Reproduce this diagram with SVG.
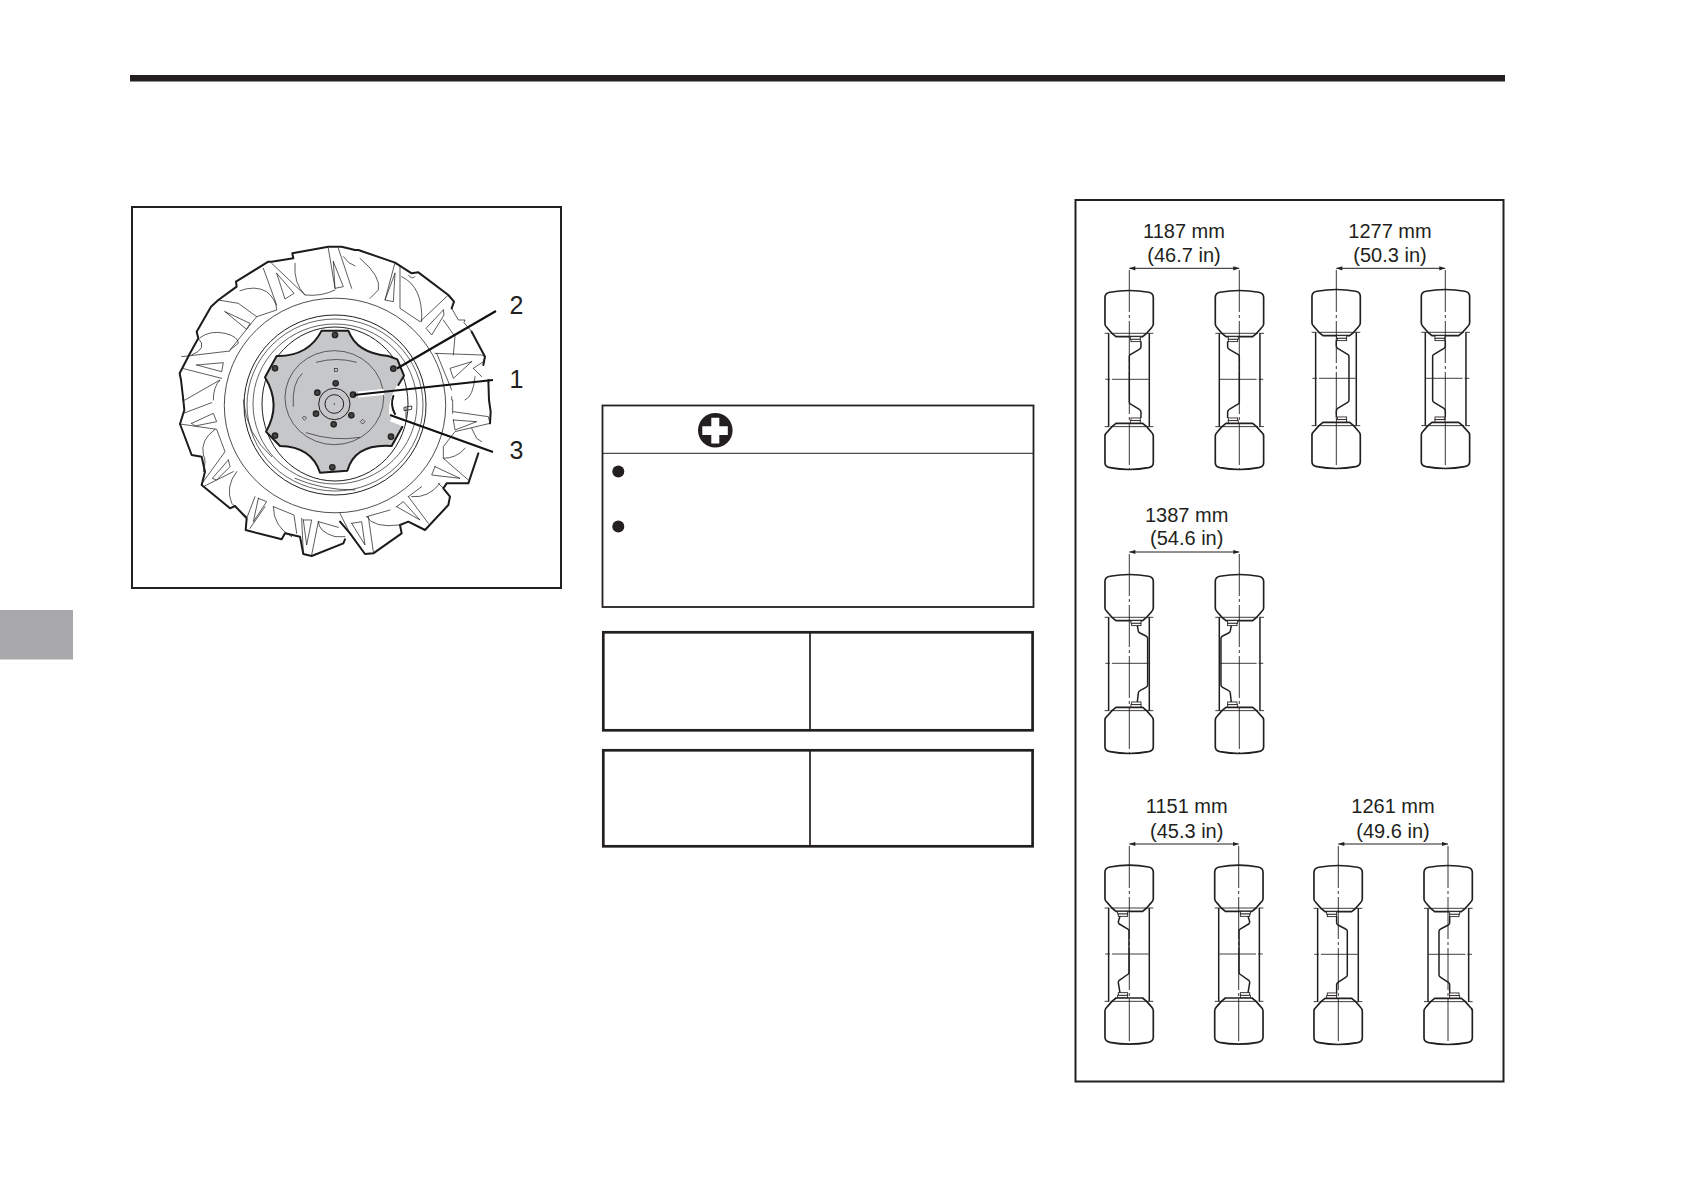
<svg xmlns="http://www.w3.org/2000/svg" xmlns:xlink="http://www.w3.org/1999/xlink" width="1684" height="1190" viewBox="0 0 1684 1190">
<style>
text{font-family:"Liberation Sans",Arial,sans-serif;fill:#231f20}
.dim{font-size:20px;text-anchor:middle}
.num{font-size:25px;text-anchor:middle}
.frame{fill:none;stroke:#231f20;stroke-width:2}
.thin{fill:none;stroke:#231f20;stroke-width:2.2;stroke-linejoin:round;stroke-linecap:round}
.thick{fill:none;stroke:#1c1a1b;stroke-width:6;stroke-linejoin:round;stroke-linecap:round}
.lead{stroke:#111;stroke-width:2.200;fill:none}
.halo{stroke:#fff;stroke-width:6;fill:none}
.bolt{fill:#444;stroke:#222;stroke-width:4}
.t{fill:#fff;stroke:#231f20;stroke-width:5;stroke-linejoin:round}
.w{fill:none;stroke:#231f20;stroke-width:4.500;stroke-linejoin:round}
.d{fill:none;stroke:#231f20;stroke-width:4.500;stroke-linejoin:round}
.b{fill:#fff;stroke:#231f20;stroke-width:2.600}
.cl{stroke:#231f20;stroke-width:.9;stroke-dasharray:42 3 3 3;fill:none}
.dl{stroke:#231f20;stroke-width:1;fill:none;marker-start:url(#as);marker-end:url(#ae)}
</style>
<defs>
<marker id="ae" markerUnits="userSpaceOnUse" markerWidth="7" markerHeight="5" refX="6" refY="2.5" orient="auto"><path d="M0 .4L6 2.5L0 4.6z" fill="#231f20"/></marker>
<marker id="as" markerUnits="userSpaceOnUse" markerWidth="7" markerHeight="5" refX="0" refY="2.5" orient="auto"><path d="M6 .4L0 2.5L6 4.6z" fill="#231f20"/></marker>
<g id="wheel">
<path class="t" d="M-73-246Q-73-258-58-261Q0-272 58-261Q72-258 72-246V-166Q72-160 66-154L52-138L40-128H-40L-52-138L-66-154Q-73-160-73-166Z"/>
<path class="t" d="M-73 250Q-73 262-58 265Q0 276 58 265Q72 262 72 250V170Q72 164 66 158L52 142L40 132H-40L-52 142L-66 158Q-73 164-73 170Z"/>
<path class="w" d="M-62-138V142M60-138V142"/>
<path d="M-74-138H72M-74 142H72" stroke="#231f20" stroke-width="2.600" stroke-dasharray="14 4 140" fill="none"/>
<path d="M-72 0H72" stroke="#231f20" stroke-width="2.600" stroke-dasharray="14 6 110" fill="none"/>
</g>
<g id="bolts"><rect class="b" x="0" y="-128" width="30" height="8"/><rect class="b" x="2" y="-120" width="28" height="7"/><rect class="b" x="2" y="116" width="28" height="8"/><rect class="b" x="0" y="124" width="30" height="7"/></g>
<g id="a"><use xlink:href="#bolts" x="3"/><path class="d" d="M35-114V-97Q35-92 30-90L3-74Q0-72 0-68V68Q0 72 3 74L30 90Q35 93 35 98V116"/></g>
<g id="b"><use xlink:href="#bolts" x="1"/><path class="d" d="M0-114V-97Q0-93 4-90L34-72Q38-70 38-66V66Q38 70 34 72L4 90Q0 93 0 98V116"/></g>
<g id="c"><use xlink:href="#bolts" x="5"/><path class="d" d="M24-113L27-97Q28-93 32-91L50-82Q55-80 55-75V65Q55 70 50 72L32 82Q27 84 27 90L24 116"/></g>
<g id="d"><use xlink:href="#bolts" x="-35"/><path class="d" d="M-28-113L-33-97Q-33-93-30-90L-3-74Q-1-72-1-68V54Q-1 58-3 60L-30 79Q-33 82-33 86L-28 116"/></g>
<g id="e"><use xlink:href="#bolts" x="-35"/><path class="d" d="M-5-114V-95Q-5-91-1-88L22-76Q27-74 27-69V62Q27 67 22 69L-1 84Q-5 87-5 91V116"/></g>
</defs>
<rect width="1684" height="1190" fill="#fff"/>
<g id="header"><rect x="130" y="75" width="1375" height="6.500" fill="#231f20"/><rect x="0" y="610" width="73" height="49.500" fill="#a9a9ab"/></g>

<g id="wheel-figure">
<rect class="frame" x="132" y="207" width="429" height="381"/>
<ellipse cx="335" cy="405.500" rx="110.700" ry="107.300" fill="none" stroke="#231f20" stroke-width=".8"/>
<g fill="none" stroke="#231f20">
<ellipse cx="335" cy="405" rx="91" ry="90" stroke-width="1"/>
<ellipse cx="335" cy="405" rx="88" ry="86" stroke-width=".7"/>
<ellipse cx="335" cy="404" rx="82" ry="80" stroke-width=".7"/>
<ellipse cx="335" cy="404" rx="73" ry="77" stroke-width="1"/>
</g>
<g transform="translate(175,240) scale(.33333)">
<path class="thick" d="M25 480L18 420L14 400L45 340L70 295L65 275L108 200L130 180L185 140L183 125L280 65L290 65L355 55L352 40L460 20L500 20L540 30"/>
<path class="thin" d="M22 385L140 415M20 350L165 333M70 295Q100 325 50 345M130 180L190 190L245 230L165 330M75 293Q105 270 150 280Q190 290 190 310L165 330M150 215L225 250L215 268L150 215ZM65 375L145 368L140 395L65 375ZM30 480L135 420Q115 440 115 480M265 85L305 195M195 152Q240 135 275 155Q305 180 305 210L245 230M290 70L390 165M305 100L357 160L330 177L305 100ZM360 70Q355 130 390 165Q440 170 480 150M460 25L480 145M490 25L530 145M475 65L505 140L480 145L475 65ZM505 50Q520 72 540 78"/>
</g>
<g transform="translate(340,240) scale(.33333)">
<path class="thick" d="M45 30L55 30L165 68L215 100L235 97L325 165L342 185L335 205M395 275L435 350L430 375M445 420L447 480"/>
<path class="thin" d="M335 205L355 240L375 240L372 248L395 275M325 165L240 245L180 205L180 80M165 68L135 180M165 100L135 180L160 185L165 100ZM185 110Q250 140 245 245M60 55Q125 110 115 150L90 175M310 210L258 265L275 285L312 225L310 210ZM285 340L425 345L435 350L430 365L400 385M395 365L330 385L340 415L395 365ZM290 340L335 450M310 240L345 290L340 345M400 385L425 410M405 410Q400 470 375 480M335 470V480M205 105Q215 120 225 110"/>
</g>
<g transform="translate(175,400) scale(.33333)">
<path class="thick" d="M25 0L28 30L15 72L50 165L80 170L90 215L80 255L165 325L180 318L215 355L212 390L320 418L330 400L375 410L385 462L410 468L505 430L510 418"/>
<path class="thin" d="M15 72L125 88L150 155L85 245M120 88Q75 120 85 165Q95 180 85 215M175 215L85 260M160 180L112 235L125 240L165 200L160 180ZM185 215Q150 260 170 310L215 350M240 290L215 355M270 320L225 385M250 295L235 365L275 305L250 295ZM295 320Q295 380 350 410M295 320L357 345L365 400M380 355L385 462M385 360L395 435L410 360L385 360ZM430 365L410 465M430 365Q430 395 480 410L510 410M50 70L115 40L125 65L60 78L50 70ZM25 40L110 8M430 365L490 382"/>
<path class="thin" d="M205 0Q215 105 290 170M360 235Q440 270 540 270"/>
</g>
<g transform="translate(340,400) scale(.33333)">
<path class="thick" d="M447 0L452 35L450 70M415 160L385 250L320 250L310 265L330 290L325 315L255 390L205 365L180 375L185 400L100 460L75 462L30 400L0 365"/>
<path class="thin" d="M450 70L345 95L310 140L310 175L385 240M340 35L445 50L450 70M340 60L410 65L345 90L340 60ZM395 85L410 115L425 125M285 200L360 235L275 225L285 200ZM300 250Q265 295 215 290M310 265L295 250M205 290L265 370M245 260L205 290M170 320L240 360L190 305L170 320ZM80 350Q100 385 180 375M80 350L150 330M85 350L100 455M35 370L75 435L65 365L35 370ZM0 340L30 400M375 145Q350 175 310 175M338 0V40"/>
</g>
<g transform="translate(240,310) scale(.33333)">
<path d="M245 62L325 62Q350 130 445 138L472 148L492 197Q440 260 448 318L487 350L455 408Q345 400 322 482L240 488Q215 410 120 408L78 365Q125 285 75 202L110 138Q205 140 245 62Z" fill="#c6c7c9"/>
<path class="thick" d="M325 62H245Q205 140 110 138L75 202Q125 285 78 365L120 408Q215 410 240 488L322 482Q345 400 455 408L487 350M325 62Q350 130 445 138L472 148L492 197L475 225M460 258Q450 285 465 312"/>
<g fill="none" stroke="#231f20" stroke-width="2">
<ellipse cx="283" cy="263" rx="148" ry="141"/>
<path d="M160 290Q155 220 187 190M228 157Q290 140 350 157M198 368Q280 395 360 382"/>
<circle cx="283" cy="282" r="47" stroke-width="3"/><circle cx="283" cy="282" r="28" stroke-width="3"/>
<rect x="283" y="175" width="10" height="10"/><rect x="188" y="320" width="9" height="9" transform="rotate(45 193 325)"/><rect x="363" y="330" width="10" height="10" transform="rotate(45 368 335)"/>
<path d="M492 292L515 288V298L492 302ZM498 292V325" stroke-width="2.500"/>
</g>
<circle cx="283" cy="282" r="2" fill="#231f20"/>
<g class="bolt"><circle cx="287" cy="220" r="8"/><circle cx="232" cy="248" r="8"/><circle cx="339" cy="254" r="8"/><circle cx="228" cy="311" r="8"/><circle cx="334" cy="316" r="8"/><circle cx="281" cy="343" r="8"/><circle cx="285" cy="75" r="8"/><circle cx="460" cy="176" r="8"/><circle cx="105" cy="175" r="8"/><circle cx="105" cy="377" r="8"/><circle cx="453" cy="380" r="8"/><circle cx="277" cy="472" r="8"/></g>
</g>
</g>
<g id="connectors">
<path class="halo" d="M358 394.500L384 392M391 418.500L404 423.500"/>
<path class="lead" d="M397 368.500L496 311M354 395L493 380M390 415L493 452"/>
<path class="dl" d="M1129.300 268.300H1239.300"/>
<path class="dl" d="M1336.300 268.300H1445.300"/>
<path class="dl" d="M1129.300 552H1239.300"/>
<path class="dl" d="M1129.300 844H1238.700"/>
<path class="dl" d="M1338.300 844H1448"/>
</g>
<text id="n2" class="num" x="516.500" y="314">2</text>
<text id="n1" class="num" x="516.500" y="388">1</text>
<text id="n3" class="num" x="516.500" y="459">3</text>

<g id="note-box">
<rect x="602.500" y="405.500" width="431" height="201.500" fill="#fff" stroke="#231f20" stroke-width="1.800"/>
<path d="M602 453.300H1034" stroke="#231f20" stroke-width="1"/>
<circle cx="715.300" cy="430.300" r="17.300" fill="#231f20"/>
<path d="M711.300 417.800h8v8.500h8.500v8.700h-8.500v8.600h-8v-8.600h-9v-8.700h9z" fill="#fff"/>
<circle cx="618.300" cy="471.500" r="6" fill="#231f20"/>
<circle cx="618.300" cy="526.500" r="6" fill="#231f20"/>
</g>
<g id="table-1"><rect x="603.300" y="632.300" width="429.300" height="98" fill="#fff" stroke="#231f20" stroke-width="2.700"/><path d="M810 632V730" stroke="#231f20" stroke-width="1.700"/></g>
<g id="table-2"><rect x="603.300" y="750.300" width="429.300" height="96" fill="#fff" stroke="#231f20" stroke-width="2.700"/><path d="M810 750V846" stroke="#231f20" stroke-width="1.700"/></g>

<g id="track-frame"><rect class="frame" x="1075.500" y="200" width="428" height="881.500" fill="none"/></g>
<g id="track-1187">
<text class="dim" x="1184" y="238">1187 mm</text><text class="dim" x="1184" y="261.500">(46.7 in)</text>
<g transform="translate(1129.300,379.300) scale(.33333)"><use xlink:href="#wheel"/><use xlink:href="#a"/></g>
<g transform="translate(1239.300,379.300) scale(-.33333,.33333)"><use xlink:href="#wheel"/><use xlink:href="#a"/></g>
<path class="cl" d="M1129.300 270V470M1239.300 270V470"/>
</g>
<g id="track-1277">
<text class="dim" x="1390" y="238">1277 mm</text><text class="dim" x="1390" y="261.500">(50.3 in)</text>
<g transform="translate(1336.300,378.300) scale(.33333)"><use xlink:href="#wheel"/><use xlink:href="#b"/></g>
<g transform="translate(1445.300,378.300) scale(-.33333,.33333)"><use xlink:href="#wheel"/><use xlink:href="#b"/></g>
<path class="cl" d="M1336.300 270V469M1445.300 270V469"/>
</g>
<g id="track-1387">
<text class="dim" x="1186.700" y="521.700">1387 mm</text><text class="dim" x="1186.700" y="545">(54.6 in)</text>
<g transform="translate(1129.300,663.300) scale(.33333)"><use xlink:href="#wheel"/><use xlink:href="#c"/></g>
<g transform="translate(1239.300,663.300) scale(-.33333,.33333)"><use xlink:href="#wheel"/><use xlink:href="#c"/></g>
<path class="cl" d="M1129.300 554V754M1239.300 554V754"/>
</g>
<g id="track-1151">
<text class="dim" x="1186.700" y="813.300">1151 mm</text><text class="dim" x="1186.700" y="837.500">(45.3 in)</text>
<g transform="translate(1129.300,954) scale(.33333)"><use xlink:href="#wheel"/><use xlink:href="#d"/></g>
<g transform="translate(1238.700,954) scale(-.33333,.33333)"><use xlink:href="#wheel"/><use xlink:href="#d"/></g>
<path class="cl" d="M1129.300 846V1045M1238.700 846V1045"/>
</g>
<g id="track-1261">
<text class="dim" x="1393" y="813.300">1261 mm</text><text class="dim" x="1393" y="837.500">(49.6 in)</text>
<g transform="translate(1338.300,954.300) scale(.33333)"><use xlink:href="#wheel"/><use xlink:href="#e"/></g>
<g transform="translate(1448,954.300) scale(-.33333,.33333)"><use xlink:href="#wheel"/><use xlink:href="#e"/></g>
<path class="cl" d="M1338.300 846V1045M1448 846V1045"/>
</g>
</svg>
